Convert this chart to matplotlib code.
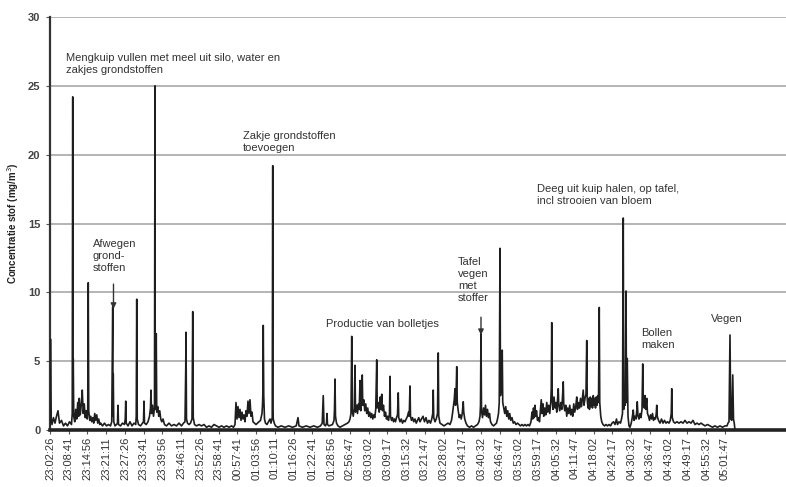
import matplotlib
matplotlib.use("Agg")
import matplotlib.pyplot as plt

plt.rcParams['font.family'] = ['Liberation Sans', 'DejaVu Sans']

# ---- data: (sample number at 5 s logging, dust concentration mg/m3) ----
seg_a = [(0,0.3),(2,6.6),(5,0.8),(8,0.4),(14,0.9),(20,0.5),(26,1.0),(32,1.4),(38,0.5),(46,0.7),
         (54,0.3),(62,0.5),(70,0.3),(78,0.6),(86,0.4),(89,1.2),(91,24.2),(92,3.0),(93,5.2),(95,1.0),
         (99,0.6),(103,1.5),(107,0.8),(111,2.0),(115,1.0),(117,2.3),(121,1.1),(125,1.8),(129,2.9),
         (133,1.2),(137,1.9),(141,0.9),(145,1.4),(149,0.8),(151,1.5),(153,10.7),(155,1.4),(159,0.7),
         (163,1.0),(167,0.6),(171,0.9),(175,0.5),(179,1.2),(183,0.7),(187,1.1),(191,0.5),(195,0.8),(199,0.4)]
seg_b = [(203,0.5),(210,0.3),(218,0.5),(226,0.3),(234,0.4),(242,0.3),(247,0.6),(251,8.95),(252,1.0),
         (253,4.1),(255,0.6),(260,0.3),(266,0.4),(270,0.5),(272,1.8),(274,0.4),(282,0.3),(290,0.5),
         (298,0.4),(301,0.8),(303,2.1),(305,0.5),(312,0.3),(320,0.6),(328,0.3),(336,0.5),(343,0.4),
         (345,1.0),(347,9.5),(349,0.8),(354,0.4),(362,0.3),(370,0.5),(374,0.6),(376,2.1),(378,0.5),
         (385,0.4),(392,0.6),(398,1.0),(402,1.6),(404,2.9),(406,1.2),(410,1.8),(414,1.0),(418,1.6),
         (420,25.0),(421,2.0),(423,1.5),(425,7.0),(427,1.3),(431,1.7),(435,1.0),(439,1.4),(443,0.8),
         (447,0.6),(452,0.8),(458,0.4)]
seg_c = [(466,0.3),(476,0.5),(486,0.3),(496,0.4),(506,0.3),(516,0.5),(526,0.3),(534,0.5),(540,0.6),
         (543,4.5),(544,7.1),(546,0.8),(550,0.5),(556,0.4),(562,0.5),(568,0.8),(571,8.6),(573,0.9),
         (578,0.4),(586,0.3),(596,0.4),(606,0.3),(616,0.4),(626,0.2),(636,0.3),(646,0.2),(656,0.4),
         (666,0.3),(676,0.2),(686,0.3),(696,0.2),(706,0.3),(716,0.2),(726,0.3),(734,0.2)]
seg_d = [(740,0.4),(744,2.0),(748,0.8),(752,1.7),(756,0.9),(760,1.5),(764,0.7),(768,1.3),(772,0.8),
         (776,1.1),(780,0.6),(784,1.4),(788,1.0),(792,2.1),(796,1.2),(800,2.2),(804,1.0),(808,1.3),
         (812,0.6),(818,0.5),(824,0.4),(830,0.5),(836,0.6),(842,0.7),(848,1.2),(850,1.8),(852,3.0),
         (853,7.6),(855,2.5),(858,0.8),(862,0.5),(868,0.4),(874,0.6),(880,0.8),(884,0.5),(889,0.9),
         (891,19.2),(892,1.5),(893,0.8),(897,0.5),(902,0.3)]
seg_e = [(912,0.2),(925,0.3),(940,0.2),(955,0.3),(970,0.2),(985,0.3),(992,0.9),(996,0.3),(1010,0.2),
         (1025,0.3),(1040,0.2),(1055,0.3),(1070,0.2),(1082,0.3),(1089,0.5),(1093,2.5),(1096,0.4),
         (1102,0.3),(1106,0.5),(1108,1.2),(1110,0.4),(1116,0.3),(1130,0.4),(1136,0.7),(1138,1.5),
         (1140,3.7),(1142,1.0),(1146,0.5),(1152,0.3),(1160,0.2),(1170,0.3),(1180,0.4),(1190,0.5)]
seg_f = [(1196,0.6),(1200,0.8),(1204,1.2),(1207,6.8),(1209,1.4),(1213,1.0),(1217,1.6),(1220,4.7),
         (1222,1.3),(1226,1.8),(1230,1.2),(1234,1.9),(1237,1.5),(1240,3.6),(1243,1.4),(1246,2.0),
         (1249,4.0),(1251,1.8),(1255,2.2),(1259,1.4),(1263,1.9),(1267,1.2),(1271,1.6),(1275,1.0),
         (1279,1.3),(1283,0.9),(1287,1.2),(1291,0.8),(1295,1.1),(1299,0.9),(1303,1.5),(1307,5.1),
         (1309,1.6),(1313,2.0),(1317,1.3),(1321,2.4),(1324,1.5),(1327,2.6),(1330,1.4),(1334,1.8),
         (1338,1.0),(1342,1.3),(1346,0.8),(1350,1.0),(1354,0.7),(1358,1.2),(1360,3.9),(1362,1.0),
         (1366,0.7),(1370,0.9),(1374,0.6),(1378,0.8),(1382,0.6),(1386,0.9),(1390,1.1),(1393,2.7),
         (1395,0.9),(1400,0.6),(1405,0.8),(1410,0.5),(1415,0.7),(1420,0.6),(1425,0.8),(1430,1.0),
         (1434,1.3),(1437,1.0),(1440,3.2),(1442,1.0),(1446,0.7),(1450,0.9),(1455,0.6),(1460,0.8),
         (1465,0.5),(1470,0.7),(1475,0.9),(1480,0.6)]
seg_g = [(1486,0.8),(1492,1.0),(1498,0.6),(1504,0.9),(1510,0.5),(1516,0.7),(1522,0.5),(1527,0.8),
         (1531,1.2),(1533,2.9),(1535,0.9),(1540,0.6),(1545,0.8),(1550,1.2),(1553,5.6),(1555,1.0),
         (1560,0.5),(1568,0.4),(1576,0.3),(1584,0.4),(1592,0.5),(1600,0.4),(1606,0.7),(1610,1.2),
         (1614,1.8),(1617,2.2),(1620,3.0),(1622,1.8),(1624,2.4),(1627,4.6),(1629,2.0),(1633,1.4),
         (1637,0.9),(1641,1.1),(1645,0.8),(1649,1.2),(1653,2.05),(1655,1.3),(1659,0.8),(1664,0.5),
         (1670,0.3),(1678,0.2),(1686,0.3),(1694,0.2),(1702,0.3),(1710,0.4),(1716,0.6),(1720,1.0),
         (1722,1.8),(1724,7.3),(1726,1.4),(1730,0.9),(1734,1.6),(1738,1.1),(1742,1.8),(1746,1.0),
         (1750,1.5),(1754,0.9),(1758,1.2),(1762,0.6),(1768,0.4),(1774,0.3),(1780,0.4),(1786,0.5),
         (1790,0.8),(1794,1.2),(1797,2.0),(1800,13.2),(1802,2.5),(1805,3.5),(1809,5.8),(1811,2.0),
         (1815,1.6),(1819,1.2),(1823,1.7),(1827,1.0),(1831,1.4),(1835,0.8),(1839,1.2),(1843,0.7),
         (1848,0.9),(1853,0.5),(1858,0.6),(1864,0.4),(1870,0.5),(1876,0.4),(1882,0.3),(1888,0.4),
         (1894,0.3),(1900,0.4),(1906,0.3),(1912,0.4),(1918,0.3)]
seg_h = [(1924,0.6),(1928,1.3),(1931,0.8),(1934,1.6),(1937,0.9),(1940,1.8),(1943,1.0),(1946,1.4),
         (1950,0.7),(1954,0.9),(1958,0.6),(1962,1.5),(1965,2.2),(1968,1.2),(1972,1.9),(1975,1.0),
         (1979,1.6),(1983,1.1),(1987,2.0),(1991,1.3),(1995,1.8),(1999,1.2),(2003,2.0),(2005,3.0),
         (2007,7.8),(2009,2.2),(2012,1.5),(2016,2.4),(2020,1.6),(2024,2.0),(2027,1.3),(2030,2.2),
         (2033,3.0),(2035,1.8),(2039,1.4),(2043,2.0),(2047,1.5),(2050,2.4),(2053,3.5),(2055,1.9),
         (2059,1.4),(2063,1.8),(2067,1.0),(2071,1.6),(2075,1.2),(2079,1.8),(2083,1.1),(2087,1.5),
         (2091,1.0),(2095,1.9),(2099,1.3),(2103,1.7),(2107,2.4),(2110,1.5),(2114,2.0),(2118,1.6),
         (2122,2.3),(2126,1.7),(2130,2.4),(2133,2.9),(2136,1.8),(2140,2.3),(2144,2.6),(2147,6.5),
         (2149,2.2),(2152,1.6),(2155,2.3),(2158,1.5),(2161,2.4),(2164,1.7),(2167,2.3),(2170,1.6),
         (2173,2.5),(2176,1.8),(2179,2.3),(2182,1.6),(2185,2.4),(2188,1.8),(2191,2.5),(2194,2.0),
         (2197,8.9),(2199,2.0),(2203,1.0),(2207,0.6),(2212,0.4),(2218,0.3),(2224,0.4),(2230,0.3),
         (2236,0.4),(2242,0.3),(2248,0.5)]
seg_i = [(2254,0.6),(2260,0.4),(2266,0.8),(2270,0.4),(2276,0.6),(2282,0.5),(2286,0.8),(2290,1.2),
         (2293,15.4),(2295,1.5),(2298,2.0),(2301,1.8),(2304,10.1),(2306,2.0),(2309,5.2),(2312,1.0),
         (2316,0.3),(2320,0.2),(2325,0.5),(2329,0.9),(2333,1.45),(2336,0.7),(2340,1.0),(2344,0.8),
         (2347,1.4),(2349,2.05),(2352,1.0),(2356,0.8),(2360,1.2),(2364,0.9),(2368,1.5),(2371,4.8),
         (2373,1.8),(2377,1.6),(2380,2.5),(2383,1.5),(2387,2.3),(2390,1.2),(2394,1.0),(2398,0.7),
         (2402,1.1),(2406,0.8),(2410,1.2),(2414,0.7),(2418,0.9),(2422,0.8),(2425,1.2),(2427,1.8),
         (2429,1.0),(2434,0.7),(2440,0.5),(2446,0.8),(2452,0.5),(2458,0.7),(2464,0.5),(2470,0.6),
         (2476,0.5),(2481,0.7),(2485,1.2),(2487,3.0),(2489,0.9),(2494,0.6),(2500,0.5),(2508,0.6),
         (2516,0.5)]
seg_j = [(2524,0.6),(2532,0.5),(2540,0.7),(2548,0.5),(2556,0.6),(2564,0.5),(2572,0.7),(2580,0.4),
         (2588,0.5),(2596,0.4),(2604,0.5),(2612,0.4),(2620,0.3),(2630,0.4),(2640,0.3),(2650,0.2),
         (2660,0.3),(2670,0.2),(2680,0.3),(2690,0.2),(2700,0.3),(2708,0.3),(2712,0.5),(2716,0.6),
         (2720,6.9),(2723,0.8),(2727,0.7),(2731,4.0),(2734,0.8),(2737,0.5),(2740,0.0)]

tick_labels = ["23:02:26","23:08:41","23:14:56","23:21:11","23:27:26","23:33:41","23:39:56",
               "23:46:11","23:52:26","23:58:41","00:57:41","01:03:56","01:10:11","01:16:26",
               "01:22:41","01:28:56","02:56:47","03:03:02","03:09:17","03:15:32","03:21:47",
               "03:28:02","03:34:17","03:40:32","03:46:47","03:53:02","03:59:17","04:05:32",
               "04:11:47","04:18:02","04:24:17","04:30:32","04:36:47","04:43:02","04:49:17",
               "04:55:32","05:01:47"]
samples_per_tick = 75   # 6 min 15 s at 5 s logging
y_ticks = [0, 5, 10, 15, 20, 25, 30]

readings = seg_a + seg_b + seg_c + seg_d + seg_e + seg_f + seg_g + seg_h + seg_i + seg_j
xs = [r[0] for r in readings]
ys = [r[1] for r in readings]

fig = plt.figure(figsize=(7.86, 4.87), dpi=100)
ax = fig.add_axes([0.0636, 0.117, 0.9364, 0.848])

for y in y_ticks[1:]:
    ax.axhline(y, color='#a8a8a8', lw=1.2, zorder=1)
ax.plot(xs, ys, color='#1e1e1e', lw=1.2, zorder=3)

ax.set_xlim(0, 2944)
ax.set_ylim(0, 30)
ax.set_yticks(y_ticks)
ax.set_yticklabels([str(v) for v in y_ticks], fontsize=8, color='#444444', fontweight='bold')
ax.set_xticks([i * samples_per_tick for i in range(len(tick_labels))])
ax.set_xticklabels(tick_labels, rotation=90, fontsize=8, color='#333333')
ax.tick_params(axis='x', length=3, width=0.8, color='#555555', pad=2)
ax.tick_params(axis='y', length=3, width=0.8, color='#555555', pad=4)

for s in ['top', 'right']:
    ax.spines[s].set_visible(False)
ax.spines['left'].set_linewidth(1.6)
ax.spines['left'].set_color('#333333')
ax.spines['bottom'].set_linewidth(2.6)
ax.spines['bottom'].set_color('#222222')
ax.spines['bottom'].set_zorder(4)

ax.set_ylabel("Concentratie stof (mg/m$^3$)", fontsize=7, fontweight='bold', color='#222222', labelpad=5)

tkw = dict(fontsize=8, color='#333333', ha='left', va='top', linespacing=1.25, zorder=5)
ax.text(64, 27.4, "Mengkuip vullen met meel uit silo, water en\nzakjes grondstoffen", **tkw)
ax.text(772, 21.7, "Zakje grondstoffen\ntoevoegen", **tkw)
ax.text(172, 13.9, "Afwegen\ngrond-\nstoffen", **tkw)
ax.text(1104, 8.1, "Productie van bolletjes", **tkw)
ax.text(1632, 12.6, "Tafel\nvegen\nmet\nstoffer", **tkw)
ax.text(1948, 17.9, "Deeg uit kuip halen, op tafel,\nincl strooien van bloem", **tkw)
ax.text(2364, 7.4, "Bollen\nmaken", **tkw)
ax.text(2644, 8.4, "Vegen", **tkw)

akw = dict(arrowstyle='-|>', color='#333333', lw=1.0, mutation_scale=8)
ax.annotate("", xy=(254, 8.6), xytext=(254, 10.8), arrowprops=akw, zorder=5)
ax.annotate("", xy=(1724, 6.7), xytext=(1724, 8.4), arrowprops=akw, zorder=5)

fig.savefig("out.png", dpi=100)
